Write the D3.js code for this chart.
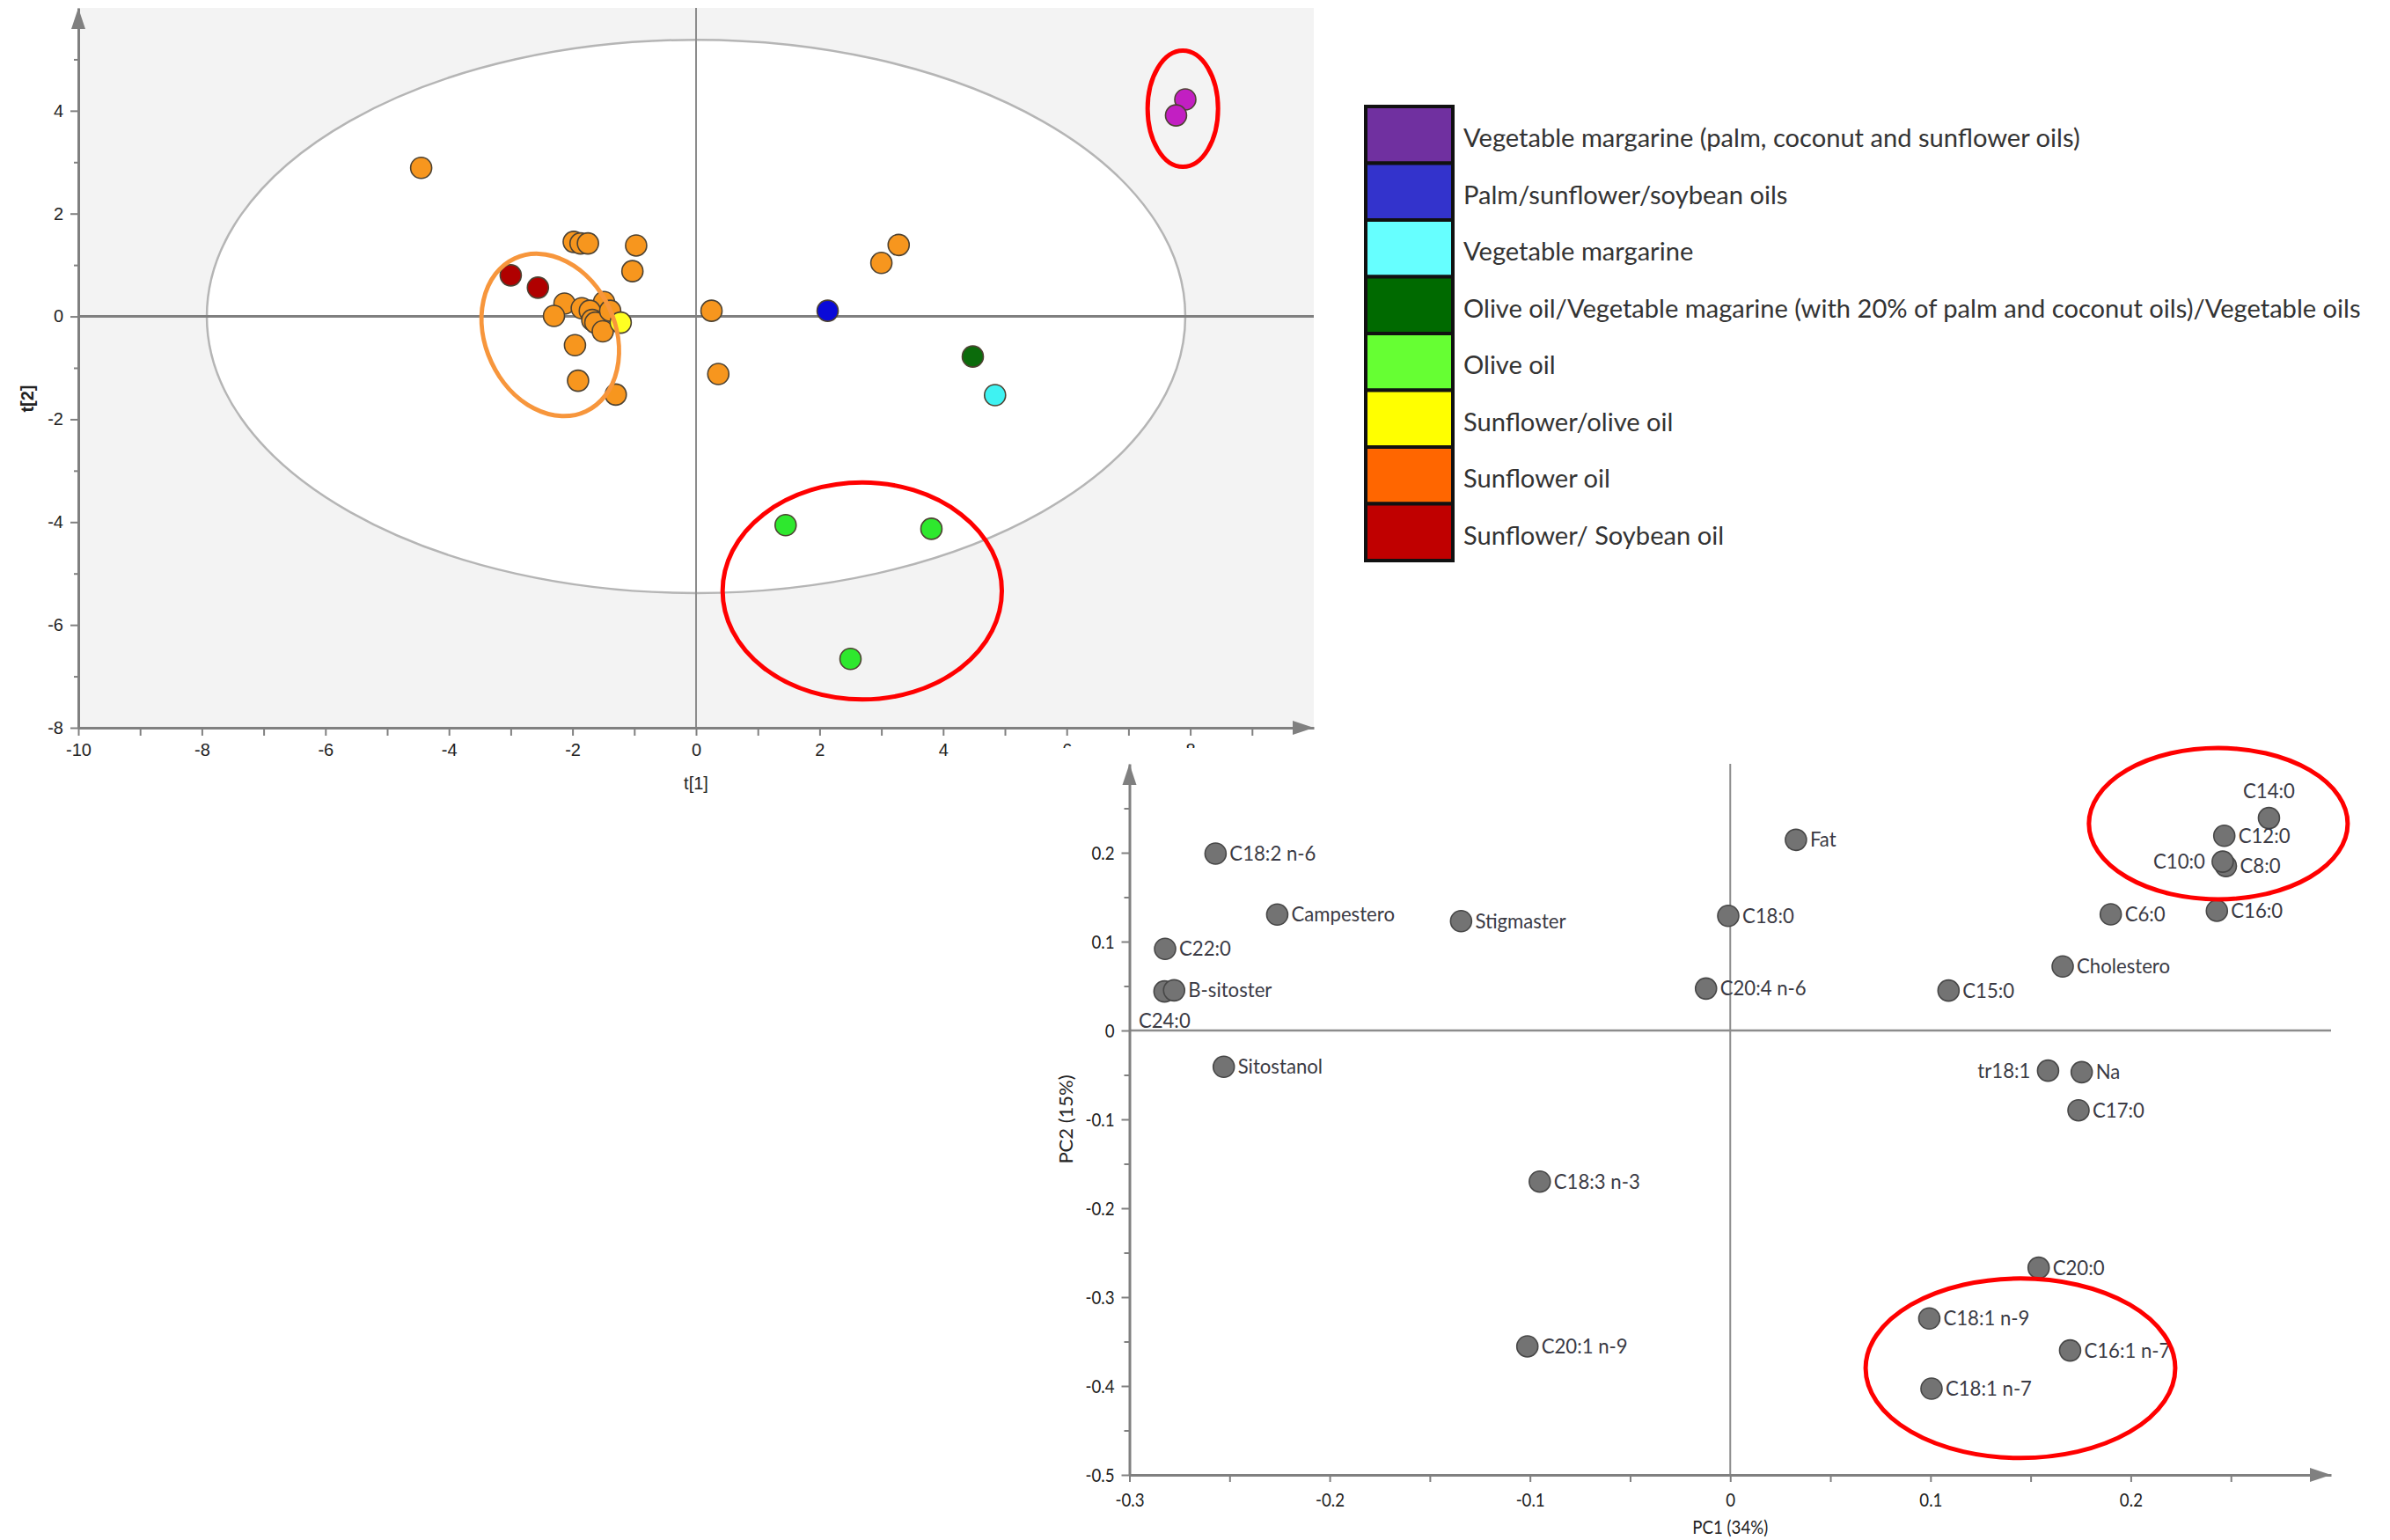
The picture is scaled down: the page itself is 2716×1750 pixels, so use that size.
<!DOCTYPE html>
<html lang="en">
<head>
<meta charset="utf-8">
<title>PCA scores and loadings</title>
<script src="https://cdn.jsdelivr.net/npm/d3@7"></script>
<style>
  body { margin: 0; background: #fff; }
  .narrow { font-family: Lato, "Open Sans", sans-serif; }
</style>
</head>
<body>
<svg id="chart" width="2716" height="1750"></svg>
<script>

// ---- data: score plot (t[1], t[2]) ----
var legendLabels = [
  "Vegetable margarine (palm, coconut and sunflower oils)",
  "Palm/sunflower/soybean oils",
  "Vegetable margarine",
  "Olive oil/Vegetable magarine (with 20% of palm and coconut oils)/Vegetable oils",
  "Olive oil",
  "Sunflower/olive oil",
  "Sunflower oil",
  "Sunflower/ Soybean oil"
]
var swatchColors = ["#7030a0", "#3333cc", "#66ffff", "#006a00", "#66ff33", "#ffff00", "#ff6600", "#c00000"]
var pointColors  = ["#c21fc2", "#0a0ad8", "#3ff2f2", "#0b6b0b", "#2ee82e", "#ffff22", "#f7961e", "#b00000"]

var scoreT1 = [-4.45, -1.98, -1.87, -1.75, -0.97, -1.03, -2.13, -2.30, -1.85, -1.49, -1.72,
               -1.68, -1.63, -1.51, -1.39, -1.96, -1.91, -1.30, 0.25, 0.36, 3.00, 3.28,
               -3.00, -2.56, -1.22, 2.13, 4.48, 4.84, 1.45, 3.81, 2.50, 7.92, 7.77]
var scoreT2 = [2.89, 1.45, 1.42, 1.42, 1.38, 0.88, 0.25, 0.01, 0.16, 0.28, 0.11,
               -0.07, -0.12, -0.29, 0.11, -0.56, -1.25, -1.52, 0.11, -1.12, 1.04, 1.39,
               0.80, 0.56, -0.12, 0.11, -0.78, -1.53, -4.06, -4.13, -6.66, 4.22, 3.91]
var scoreGroup = [6, 6, 6, 6, 6, 6, 6, 6, 6, 6, 6,
                  6, 6, 6, 6, 6, 6, 6, 6, 6, 6, 6,
                  7, 7, 5, 1, 3, 2, 4, 4, 4, 0, 0]

// Hotelling T2 ellipse half-axes
var t2Ellipse = [7.92, 5.38]

// ---- data: loading plot (PC1, PC2) ----
var loadingNames = ["C14:0", "C12:0", "C8:0", "C10:0", "Fat", "C18:2 n-6", "Campestero", "Stigmaster",
                    "C18:0", "C6:0", "C16:0", "C22:0", "Cholestero", "C24:0", "B-sitoster", "C20:4 n-6",
                    "C15:0", "Sitostanol", "tr18:1", "Na", "C17:0", "C18:3 n-3", "C20:0", "C18:1 n-9",
                    "C16:1 n-7", "C20:1 n-9", "C18:1 n-7"]
var loadingPC1 = [0.269, 0.2467, 0.2475, 0.2459, 0.0328, -0.257, -0.2262, -0.1344,
                  -0.001, 0.190, 0.243, -0.2822, 0.166, -0.2825, -0.2777, -0.0121,
                  0.109, -0.2529, 0.1587, 0.1755, 0.1739, -0.0951, 0.154, 0.0994,
                  0.1697, -0.1013, 0.1005]
var loadingPC2 = [0.239, 0.219, 0.185, 0.190, 0.2145, 0.199, 0.1304, 0.123,
                  0.129, 0.1307, 0.1347, 0.0918, 0.072, 0.0439, 0.0452, 0.0472,
                  0.0449, -0.0409, -0.0452, -0.0469, -0.0898, -0.170, -0.267, -0.324,
                  -0.360, -0.3554, -0.403]

// highlighted groups (centre and half-axes in data units)
var scoreRings = [
  {cx: 7.88, cy: 4.04, rx: 0.57, ry: 1.13, angle: 0, col: "red"},
  {cx: 2.69, cy: -5.34, rx: 2.26, ry: 2.11, angle: 0, col: "red"},
  {cx: -2.36, cy: -0.36, rx: 1.05, ry: 1.64, angle: -25, col: "orange"}
]
var loadingRings = [
  {cx: 0.2437, cy: 0.2327, rx: 0.0646, ry: 0.0851},
  {cx: 0.1449, cy: -0.380, rx: 0.0773, ry: 0.101}
]

var labelSide = {"C14:0": "above", "C10:0": "left", "tr18:1": "left", "C24:0": "below"}

var svg = d3.select("#chart")
var axisGray = "#808080"

// squeeze text horizontally (the original uses a condensed face)
function squeeze(sel, ratio) {
  sel.each(function(){
    var len = this.getComputedTextLength()
    if (len > 0) d3.select(this).attr("textLength", len * ratio).attr("lengthAdjust", "spacingAndGlyphs")
  })
}

function arrowHead(g, x, y, dir) {
  var pts = dir == "up"
    ? [[x, y], [x - 8, y + 24], [x + 8, y + 24]]
    : [[x, y], [x - 24, y - 8], [x - 24, y + 8]]
  g.append("polygon").attr("points", pts.map(function(p){ return p.join(",") }).join(" "))
    .attr("fill", axisGray)
}

// ================= score plot =================
var x1 = d3.scaleLinear().domain([-10, 10]).range([89, 1493])
var y1 = d3.scaleLinear().domain([-8, 6]).range([827, 9])
var g1 = svg.append("g")

g1.append("rect")
  .attr("x", x1(-10)).attr("y", y1(6))
  .attr("width", x1(10) - x1(-10)).attr("height", y1(-8) - y1(6))
  .attr("fill", "#f3f3f3")

g1.append("ellipse")
  .attr("cx", x1(0)).attr("cy", y1(0))
  .attr("rx", x1(t2Ellipse[0]) - x1(0)).attr("ry", y1(0) - y1(t2Ellipse[1]))
  .attr("fill", "#fff").attr("stroke", "#b5b5b5").attr("stroke-width", 2.5)

g1.append("line").attr("x1", x1(0)).attr("x2", x1(0)).attr("y1", y1(6)).attr("y2", y1(-8))
  .attr("stroke", "#8c8c8c").attr("stroke-width", 2)
g1.append("line").attr("x1", x1(-10)).attr("x2", x1(10)).attr("y1", y1(0)).attr("y2", y1(0))
  .attr("stroke", "#7f7f7f").attr("stroke-width", 3)

var xAxis1 = d3.axisBottom(x1).tickValues(d3.range(-10, 10, 1)).tickSize(9).tickSizeOuter(0).tickPadding(9)
  .tickFormat(function(d){ return d % 2 == 0 ? String(d) : "" })
var yAxis1 = d3.axisLeft(y1).tickValues(d3.range(-8, 6, 1)).tickSize(9).tickSizeOuter(0).tickPadding(8)
  .tickFormat(function(d){ return d % 2 == 0 ? String(d) : "" })

var gx1 = g1.append("g").attr("transform", "translate(0," + y1(-8) + ")").call(xAxis1)
var gy1 = g1.append("g").attr("transform", "translate(" + x1(-10) + ",0)").call(yAxis1)
gy1.selectAll(".tick").filter(function(d){ return d % 2 != 0 }).select("line").attr("x2", -5)
;[gx1, gy1].forEach(function(a){
  a.select(".domain").attr("stroke", axisGray).attr("stroke-width", 3)
  a.selectAll(".tick line").attr("stroke", axisGray).attr("stroke-width", 2)
  a.selectAll(".tick text").attr("fill", "#222").style("font-family", "Liberation Sans, sans-serif").style("font-size", "20px")
})
arrowHead(g1, x1(-10), y1(6), "up")
arrowHead(g1, x1(10), y1(-8), "right")

g1.append("text").attr("x", x1(0)).attr("y", 897).attr("text-anchor", "middle")
  .style("font-family", "Liberation Sans, sans-serif").style("font-size", "20px").attr("fill", "#222")
  .text("t[1]")
g1.append("text").attr("transform", "translate(38," + y1(-1.6) + ") rotate(-90)").attr("text-anchor", "middle")
  .style("font-family", "Liberation Sans, sans-serif").style("font-size", "20px").style("font-weight", "bold").attr("fill", "#222")
  .text("t[2]")

var scoreIdx = d3.range(scoreT1.length)
g1.selectAll(".score")
  .data(scoreIdx)
  .enter()
  .append("circle")
  .attr("class", "score")
  .attr("cx", function(i){ return x1(scoreT1[i]) })
  .attr("cy", function(i){ return y1(scoreT2[i]) })
  .attr("r", 12)
  .attr("fill", function(i){ return pointColors[scoreGroup[i]] })
  .attr("stroke", "#4d4232")
  .attr("stroke-width", 1.6)

g1.selectAll(".ring")
  .data(scoreRings)
  .enter()
  .append("ellipse")
  .attr("class", "ring")
  .attr("transform", function(d){ return "translate(" + x1(d.cx) + "," + y1(d.cy) + ") rotate(" + d.angle + ")" })
  .attr("rx", function(d){ return x1(d.rx) - x1(0) })
  .attr("ry", function(d){ return y1(0) - y1(d.ry) })
  .attr("fill", "none")
  .attr("stroke", function(d){ return d.col == "red" ? "#ff0000" : "#f7963c" })
  .attr("stroke-width", 5)

// ================= legend =================
var leg = svg.append("g")
var swH = 64.5
leg.selectAll(".sw")
  .data(legendLabels)
  .enter()
  .append("rect")
  .attr("x", 1552).attr("y", function(d, i){ return 121 + i * swH })
  .attr("width", 99).attr("height", swH)
  .attr("fill", function(d, i){ return swatchColors[i] })
  .attr("stroke", "#111").attr("stroke-width", 4)
var legText = leg.selectAll(".lt")
  .data(legendLabels)
  .enter()
  .append("text")
  .attr("class", "narrow")
  .attr("x", 1663).attr("y", function(d, i){ return 121 + (i + 0.5) * swH + 4 })
  .attr("dy", "0.35em")
  .style("font-size", "31px")
  .attr("fill", "#333")
  .text(function(d){ return d })
// fit the longest entry inside the page by reducing the size
var longest = d3.max(legText.nodes(), function(n){ return n.getComputedTextLength() })
legText.style("font-size", (31 * Math.min(1, 1020 / longest)).toFixed(1) + "px")

// ================= loading plot =================
var g2 = svg.append("g")
g2.append("rect").attr("x", 1170).attr("y", 850).attr("width", 1546).attr("height", 900).attr("fill", "#fff")

var x2 = d3.scaleLinear().domain([-0.3, 0.3]).range([1283.5, 2649])
var y2 = d3.scaleLinear().domain([-0.5, 0.3]).range([1676, 868])

g2.append("line").attr("x1", x2(0)).attr("x2", x2(0)).attr("y1", y2(0.3)).attr("y2", y2(-0.5))
  .attr("stroke", "#8c8c8c").attr("stroke-width", 2)
g2.append("line").attr("x1", x2(-0.3)).attr("x2", x2(0.3)).attr("y1", y2(0)).attr("y2", y2(0))
  .attr("stroke", "#8c8c8c").attr("stroke-width", 2.5)

function isTenth(d) { return Math.abs(d * 10 - Math.round(d * 10)) < 1e-6 }
function fmt(d) { return isTenth(d) ? String(Math.round(d * 10) / 10) : "" }

var xAxis2 = d3.axisBottom(x2).tickValues(d3.range(-6, 6).map(function(k){ return k * 0.05 }))
  .tickSize(8).tickSizeOuter(0).tickPadding(12).tickFormat(fmt)
var yAxis2 = d3.axisLeft(y2).tickValues(d3.range(-10, 6).map(function(k){ return k * 0.05 }))
  .tickSize(9).tickSizeOuter(0).tickPadding(8).tickFormat(fmt)

var gx2 = g2.append("g").attr("transform", "translate(0," + y2(-0.5) + ")").call(xAxis2)
var gy2 = g2.append("g").attr("transform", "translate(" + x2(-0.3) + ",0)").call(yAxis2)
gy2.selectAll(".tick").filter(function(d){ return !isTenth(d) }).select("line").attr("x2", -6)
;[gx2, gy2].forEach(function(a){
  a.select(".domain").attr("stroke", axisGray).attr("stroke-width", 3)
  a.selectAll(".tick line").attr("stroke", axisGray).attr("stroke-width", 2)
  a.selectAll(".tick text").attr("class", "narrow").attr("fill", "#222").style("font-size", "22px")
  squeeze(a.selectAll(".tick text"), 0.85)
})
arrowHead(g2, x2(-0.3), y2(0.3), "up")
arrowHead(g2, x2(0.3), y2(-0.5), "right")

var pc1Title = g2.append("text").attr("class", "narrow").attr("x", x2(0)).attr("y", 1743).attr("text-anchor", "middle")
  .style("font-size", "22px").attr("fill", "#222").text("PC1 (34%)")
var pc2Title = g2.append("text").attr("class", "narrow").attr("transform", "translate(1219," + y2(-0.1) + ") rotate(-90)")
  .attr("text-anchor", "middle").style("font-size", "22px").attr("fill", "#222").text("PC2 (15%)")
squeeze(pc1Title, 0.85)

var loadIdx = d3.range(loadingNames.length)
g2.selectAll(".load")
  .data(loadIdx)
  .enter()
  .append("circle")
  .attr("class", "load")
  .attr("cx", function(i){ return x2(loadingPC1[i]) })
  .attr("cy", function(i){ return y2(loadingPC2[i]) })
  .attr("r", 12)
  .attr("fill", "#737373")
  .attr("stroke", "#474747")
  .attr("stroke-width", 1.6)

var labels = g2.selectAll(".lab")
  .data(loadIdx)
  .enter()
  .append("text")
  .attr("class", "narrow")
  .style("font-size", "23px")
  .attr("fill", "#3a3a44")
  .attr("x", function(i){
    var side = labelSide[loadingNames[i]], px = x2(loadingPC1[i])
    if (side == "left") return px - 20
    if (side == "above" || side == "below") return px
    return px + 16
  })
  .attr("y", function(i){
    var side = labelSide[loadingNames[i]], py = y2(loadingPC2[i])
    if (side == "above") return py - 31
    if (side == "below") return py + 33
    return py
  })
  .attr("dy", "0.35em")
  .attr("text-anchor", function(i){
    var side = labelSide[loadingNames[i]]
    if (side == "left") return "end"
    if (side == "above" || side == "below") return "middle"
    return "start"
  })
  .text(function(i){ return loadingNames[i] })
var cholLen = labels.filter(function(i){ return loadingNames[i] == "Cholestero" }).node().getComputedTextLength()
squeeze(labels, Math.min(1, 106 / cholLen))

g2.selectAll(".lring")
  .data(loadingRings)
  .enter()
  .append("ellipse")
  .attr("cx", function(d){ return x2(d.cx) })
  .attr("cy", function(d){ return y2(d.cy) })
  .attr("rx", function(d){ return x2(d.rx) - x2(0) })
  .attr("ry", function(d){ return y2(0) - y2(d.ry) })
  .attr("fill", "none")
  .attr("stroke", "#ff0000")
  .attr("stroke-width", 5)

</script>
</body>
</html>
